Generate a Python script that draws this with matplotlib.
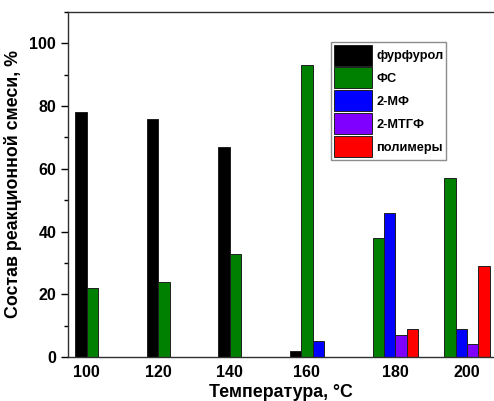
import numpy as np
import matplotlib.pyplot as plt
from matplotlib.ticker import MultipleLocator

plt.rcParams['font.family'] = ['Liberation Sans', 'DejaVu Sans']
plt.rcParams['font.weight'] = 'bold'

temps = ['100', '120', '140', '160', '180', '200']
series = ['фурфурол', 'ФС', '2-МФ', '2-МТГФ', 'полимеры']
colors = ['#000000', '#008000', '#0000FF', '#7F00FF', '#FF0000']

furfural = [78, 76, 67, 2, 0, 0]
fs = [22, 24, 33, 93, 38, 57]
mf = [0, 0, 0, 5, 46, 9]
mtgf = [0, 0, 0, 0, 7, 4]
polymers = [0, 0, 0, 0, 9, 29]

data = np.array([furfural, fs, mf, mtgf, polymers], dtype=float)

fig = plt.figure(figsize=(4.94, 4.01), dpi=100)
ax = fig.add_axes([68 / 494, 44 / 401, 429 / 494, 345 / 401])

x = np.arange(len(temps))
w = 0.16
offsets = (np.arange(len(series)) - 2) * w

for j, name in enumerate(series):
    vals = data[j]
    mask = vals > 0
    ax.bar(x[mask] + offsets[j], vals[mask], width=w, color=colors[j],
           edgecolor='#202020', linewidth=0.7, label=name)

# подписи по центру непустых столбцов каждой группы
label_pos = [i + offsets[data[:, i] > 0].mean() for i in range(len(temps))]
ax.set_xticks(label_pos)
ax.set_xticklabels(temps, fontsize=11.5, fontweight='bold')
ax.tick_params(axis='x', length=0, pad=6)

ax.set_xlim(-0.5, 5.5)
ax.set_ylim(0, 110)
ax.yaxis.set_major_locator(MultipleLocator(20))
ax.yaxis.set_minor_locator(MultipleLocator(10))
ax.tick_params(axis='y', which='major', length=5, width=1, labelsize=11.5, direction='out')
ax.tick_params(axis='y', which='minor', length=3, width=1, direction='out')
for lab in ax.get_yticklabels():
    lab.set_fontweight('bold')

ax.spines['right'].set_visible(False)
for s in ['left', 'bottom', 'top']:
    ax.spines[s].set_linewidth(1.0)
    ax.spines[s].set_color('#303030')

ax.set_xlabel('Температура, °C', fontsize=12.8, fontweight='bold')
ax.xaxis.set_label_coords(0.497, -0.078)
ax.set_ylabel('Состав реакционной смеси, %', fontsize=12.8, fontweight='bold')
ax.yaxis.set_label_coords(-0.107, 0.5)

leg = ax.legend(loc='upper left', bbox_to_anchor=(0.614, 0.913), fontsize=9.2,
                frameon=True, fancybox=False, handlelength=3.0, handleheight=2.15,
                handletextpad=0.3, labelspacing=0.15, borderpad=0.2,
                borderaxespad=0)
leg.get_frame().set_edgecolor('#707070')
leg.get_frame().set_linewidth(1.0)
for t in leg.get_texts():
    t.set_fontweight('bold')

fig.savefig('out.png', dpi=100)
